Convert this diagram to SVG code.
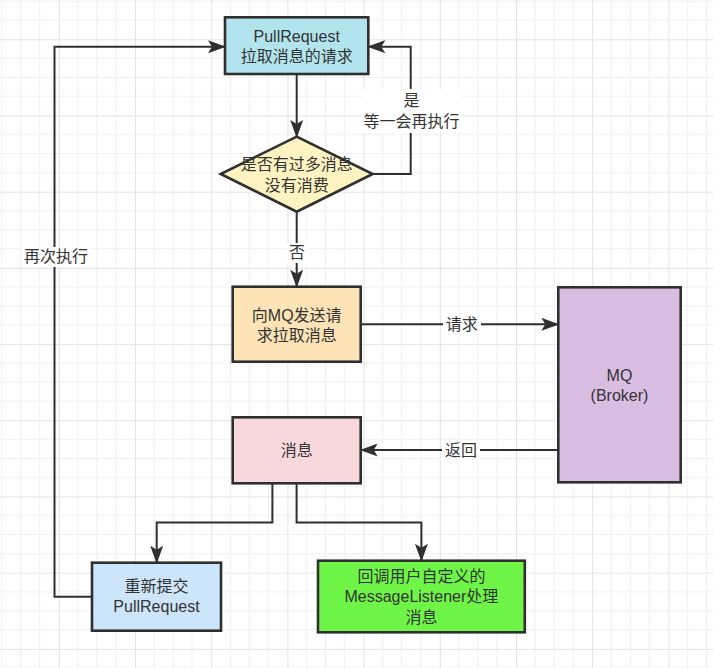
<svg xmlns="http://www.w3.org/2000/svg" width="713" height="668" viewBox="0 0 713 668">
<style>
.node{stroke:#2f2f2f;stroke-width:2.6}
.t{font-family:"Liberation Sans","Noto Sans CJK SC",sans-serif;font-size:16px;fill:#333;text-anchor:middle;dominant-baseline:central}
.edge{fill:none;stroke:#2f2f2f;stroke-width:2}
.lbg{fill:#fff}
</style>
<defs>
<pattern id="grid" x="58.8" y="39.3" width="76.2" height="76.2" patternUnits="userSpaceOnUse">
<path d="M19.05,0V76.2M38.1,0V76.2M57.15,0V76.2M0,19.05H76.2M0,38.1H76.2M0,57.15H76.2" stroke="#efefef" stroke-width="1" fill="none"/>
<path d="M0.5,0V76.2M0,0.5H76.2" stroke="#e3e3e3" stroke-width="1" fill="none"/>
</pattern>
<marker id="arr" markerUnits="userSpaceOnUse" markerWidth="18" markerHeight="13" refX="17" refY="6.5" orient="auto">
<path d="M0,0L18,6.5L0,13L4,6.5z" fill="#2f2f2f"/>
</marker>
</defs>
<rect width="713" height="668" fill="#fff"/>
<rect width="713" height="668" fill="url(#grid)"/>

<g id="connectors">
<path class="edge" d="M296.7,74V137" marker-end="url(#arr)"/>
<path class="edge" d="M372.7,174H410.7V46.7H368.3" marker-end="url(#arr)"/>
<path class="edge" d="M296.7,211.7V286.7" marker-end="url(#arr)"/>
<path class="edge" d="M360.7,324.3H558.3" marker-end="url(#arr)"/>
<path class="edge" d="M558.3,450H360.7" marker-end="url(#arr)"/>
<path class="edge" d="M272.4,483V522.5H156.7V562.7" marker-end="url(#arr)"/>
<path class="edge" d="M296.6,483V522.5H421.4V560.7" marker-end="url(#arr)"/>
<path class="edge" d="M92,596.7H54.5V46.7H225" marker-end="url(#arr)"/>
<rect class="lbg" x="362" y="89" width="100" height="44"/>
<text class="t" x="411.5" y="100">是</text>
<text class="t" x="411.5" y="121.5">等一会再执行</text>
<rect class="lbg" x="287" y="243" width="20" height="20"/>
<text class="t" x="297" y="252.7">否</text>
<rect class="lbg" x="443" y="314" width="38" height="20"/>
<text class="t" x="461.7" y="324.3">请求</text>
<rect class="lbg" x="442" y="440" width="38" height="20"/>
<text class="t" x="461" y="450">返回</text>
<rect class="lbg" x="22" y="247" width="68" height="20"/>
<text class="t" x="56" y="256.7">再次执行</text>
</g>

<g id="pullrequest">
<rect class="node" x="225" y="17.3" width="143.3" height="56.7" fill="#b2e4ee"/>
<text class="t" x="296.7" y="36">PullRequest</text>
<text class="t" x="296.7" y="56.7">拉取消息的请求</text>
</g>

<g id="decision">
<path class="node" d="M296.7,136.7L372.7,174L296.7,211.7L220.7,174z" fill="#fff3c2"/>
<text class="t" x="296.7" y="164.3">是否有过多消息</text>
<text class="t" x="296.7" y="185">没有消费</text>
</g>

<g id="send">
<rect class="node" x="232.7" y="286.7" width="128" height="75" fill="#fde3b6"/>
<text class="t" x="296.7" y="315">向MQ发送请</text>
<text class="t" x="296.7" y="335">求拉取消息</text>
</g>

<g id="mq">
<rect class="node" x="558.3" y="287.3" width="122.4" height="195" fill="#dabde3"/>
<text class="t" x="619.5" y="375">MQ</text>
<text class="t" x="619.5" y="395.7">(Broker)</text>
</g>

<g id="message">
<rect class="node" x="232.7" y="417.3" width="128" height="66" fill="#f8d7dd"/>
<text class="t" x="296.7" y="450">消息</text>
</g>

<g id="resubmit">
<rect class="node" x="92" y="562.7" width="129" height="68" fill="#cde5fa"/>
<text class="t" x="156.5" y="586.7">重新提交</text>
<text class="t" x="156.5" y="606.7">PullRequest</text>
</g>

<g id="listener">
<rect class="node" x="318" y="560.7" width="206.8" height="71.6" fill="#6ef547"/>
<text class="t" x="421.4" y="576.7">回调用户自定义的</text>
<text class="t" x="421.4" y="596.7">MessageListener处理</text>
<text class="t" x="421.4" y="617.5">消息</text>
</g>
</svg>
